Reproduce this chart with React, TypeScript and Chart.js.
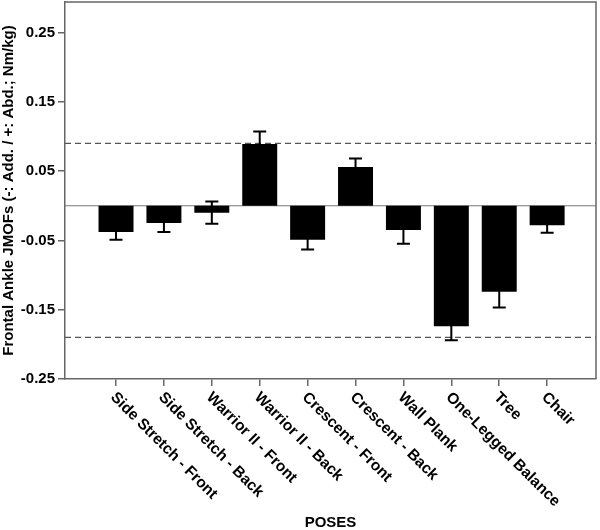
import React, { useEffect, useRef } from "react";
import { Chart, registerables } from "chart.js";

Chart.register(...registerables);

const poses = [
  "Side Stretch - Front",
  "Side Stretch - Back",
  "Warrior II - Front",
  "Warrior II - Back",
  "Crescent - Front",
  "Crescent - Back",
  "Wall Plank",
  "One-Legged Balance",
  "Tree",
  "Chair",
];
const meanValues = [-0.038, -0.025, -0.010, 0.089, -0.049, 0.056, -0.035, -0.174, -0.124, -0.028];
const errorValues = [0.011, 0.013, 0.016, 0.018, 0.014, 0.012, 0.020, 0.020, 0.023, 0.011];
const referenceLines = [0.09, -0.19];
const yTickValues = [-0.25, -0.15, -0.05, 0.05, 0.15, 0.25];

const FONT_FAMILY = '"Liberation Sans", Arial, sans-serif';
const FRAME = "#666666";

export default function App() {
  const ref = useRef<HTMLCanvasElement | null>(null);

  useEffect(() => {
    if (!ref.current) return;

    const overlay = {
      id: "overlay",
      beforeDatasetsDraw(chart: any) {
        const { ctx, chartArea, scales } = chart;
        const y = scales.y;
        ctx.save();
        ctx.strokeStyle = "#777777";
        ctx.lineWidth = 1.2;
        const y0 = y.getPixelForValue(0);
        ctx.beginPath();
        ctx.moveTo(chartArea.left, y0);
        ctx.lineTo(chartArea.right, y0);
        ctx.stroke();
        ctx.strokeStyle = "#555555";
        ctx.lineWidth = 1.2;
        ctx.setLineDash([6, 4]);
        referenceLines.forEach((v) => {
          const py = y.getPixelForValue(v);
          ctx.beginPath();
          ctx.moveTo(chartArea.left, py);
          ctx.lineTo(chartArea.right, py);
          ctx.stroke();
        });
        ctx.restore();
      },
      afterDatasetsDraw(chart: any) {
        const { ctx, scales } = chart;
        const x = scales.x;
        const y = scales.y;
        ctx.save();
        ctx.strokeStyle = "#000";
        ctx.lineWidth = 2;
        meanValues.forEach((m, i) => {
          const px = x.getPixelForValue(i);
          const top = y.getPixelForValue(m + errorValues[i]);
          const bot = y.getPixelForValue(m - errorValues[i]);
          ctx.beginPath();
          ctx.moveTo(px, top);
          ctx.lineTo(px, bot);
          ctx.moveTo(px - 6.5, top);
          ctx.lineTo(px + 6.5, top);
          ctx.moveTo(px - 6.5, bot);
          ctx.lineTo(px + 6.5, bot);
          ctx.stroke();
        });
        ctx.restore();
      },
      afterDraw(chart: any) {
        const { ctx, chartArea, scales } = chart;
        const x = scales.x;
        ctx.save();
        ctx.strokeStyle = FRAME;
        ctx.lineWidth = 1.5;
        ctx.beginPath();
        ctx.moveTo(chartArea.left, chartArea.top);
        ctx.lineTo(chartArea.right, chartArea.top);
        ctx.lineTo(chartArea.right, chartArea.bottom);
        ctx.stroke();
        ctx.fillStyle = "#000";
        ctx.font = "bold 15.5px " + FONT_FAMILY;
        ctx.textAlign = "left";
        ctx.textBaseline = "middle";
        poses.forEach((label, i) => {
          const px = x.getPixelForValue(i);
          ctx.save();
          ctx.translate(px - 3, chartArea.bottom + 16);
          ctx.rotate(Math.PI / 4);
          ctx.fillText(label, 0, 0);
          ctx.restore();
        });
        ctx.restore();
      },
    };

    const chart = new Chart(ref.current, {
      type: "bar",
      data: {
        datasets: [
          {
            data: meanValues.map((v, i) => ({ x: i, y: v })),
            backgroundColor: "#000000",
            borderWidth: 0,
            categoryPercentage: 1,
            barPercentage: 0.73,
          },
        ],
      },
      options: {
        responsive: false,
        animation: false,
        events: [],
        layout: { padding: { top: 2, right: 4, left: 0, bottom: 0 } },
        plugins: { legend: { display: false }, tooltip: { enabled: false } },
        scales: {
          x: {
            type: "linear",
            offset: false,
            min: -1.065,
            max: 10.02,
            afterBuildTicks: (s: any) => {
              s.ticks = poses.map((_, i) => ({ value: i }));
            },
            afterFit: (s: any) => {
              s.height = 151;
              s.paddingLeft = 0;
              s.paddingRight = 0;
            },
            ticks: { display: false },
            grid: { offset: false, drawOnChartArea: false, tickLength: 7, color: FRAME, lineWidth: 1.5 },
            border: { display: true, color: FRAME, width: 1.5 },
            title: {
              display: true,
              text: "POSES",
              color: "#000",
              font: { family: FONT_FAMILY, size: 15, weight: "bold", lineHeight: 1 },
              padding: { top: 0, bottom: 0 },
            },
          },
          y: {
            type: "linear",
            min: -0.25,
            max: 0.294,
            afterBuildTicks: (s: any) => {
              s.ticks = yTickValues.map((v) => ({ value: v }));
            },
            afterFit: (s: any) => {
              s.width = 65;
              s.paddingTop = 0;
              s.paddingBottom = 0;
            },
            ticks: {
              color: "#000",
              padding: 3,
              font: { family: FONT_FAMILY, size: 15, weight: "bold" },
              callback: (v: any) => Number(v).toFixed(2),
            },
            grid: { drawOnChartArea: false, tickLength: 7, color: FRAME, lineWidth: 1.5 },
            border: { display: true, color: FRAME, width: 1.5 },
            title: {
              display: true,
              text: "Frontal Ankle JMOFs (-: Add. / +: Abd.; Nm/kg)",
              color: "#000",
              font: { family: FONT_FAMILY, size: 15, weight: "bold" },
              padding: { top: 0, bottom: 0 },
            },
          },
        },
      },
      plugins: [overlay],
    });

    return () => chart.destroy();
  }, []);

  return (
    <div style={{ position: "fixed", left: 0, top: 0, width: 600, height: 530, background: "#fff" }}>
      <canvas ref={ref} width={600} height={530} />
    </div>
  );
}
